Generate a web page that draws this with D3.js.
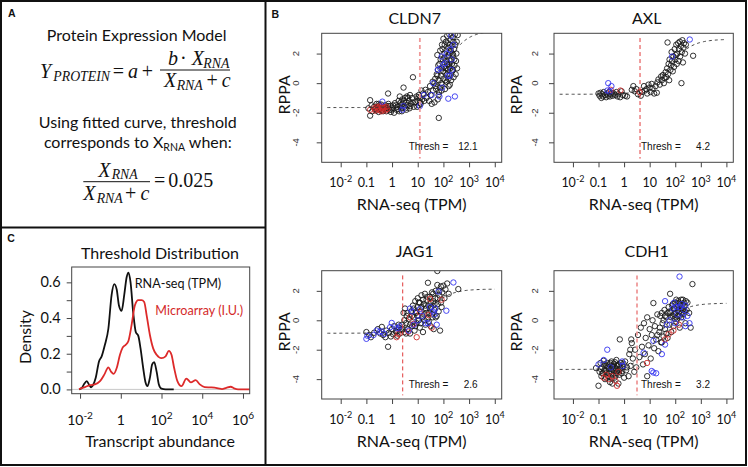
<!DOCTYPE html>
<html><head><meta charset="utf-8">
<script src="https://cdn.jsdelivr.net/npm/d3@7"></script>
<style>body{margin:0;background:#fff} svg{display:block}</style>
</head><body><svg id="c" width="748" height="467"></svg>
<script>
// ---------------- DATA ----------------
// Panel C: threshold density curves (log10 abundance, density)
const rnaLog10Abundance = [-2.05,-1.9,-1.8,-1.67,-1.55,-1.46,-1.38,-1.23,-1.07,-0.94,-0.78,-0.61,-0.45,-0.32,-0.2,-0.09,0.04,0.17,0.29,0.38,0.48,0.61,0.74,0.86,0.97,1.10,1.22,1.31,1.43,1.54,1.64,1.76,1.87,2.0,2.2,2.6];
const rnaDensity = [0,0.01,0.03,0.046,0.025,0.012,0.02,0.065,0.157,0.185,0.25,0.34,0.53,0.59,0.56,0.47,0.44,0.53,0.63,0.655,0.60,0.43,0.32,0.30,0.23,0.12,0.037,0.018,0.065,0.14,0.153,0.10,0.028,0.004,0,0];
const arrayLog10Abundance = [-2.05,-1.76,-1.51,-1.27,-1.02,-0.81,-0.61,-0.48,-0.35,-0.2,-0.04,0.09,0.24,0.37,0.53,0.69,0.86,1.02,1.15,1.27,1.43,1.59,1.76,2.0,2.2,2.36,2.49,2.62,2.78,2.98,3.22,3.44,3.68,3.88,4.12,4.45,4.78,4.97,5.18,5.4,5.56,5.76,6.33];
const arrayDensity = [0.002,0.013,0.024,0.028,0.046,0.083,0.124,0.10,0.087,0.12,0.194,0.234,0.25,0.27,0.36,0.47,0.50,0.50,0.49,0.415,0.305,0.23,0.194,0.175,0.185,0.216,0.194,0.12,0.046,0.018,0.061,0.04,0.052,0.028,0.013,0.011,0.006,0.002,0.009,0.015,0.006,0,0];
const cXTicks = [0.01, 1, 100, 1e4, 1e6];
const cXTickLabels = [["10","-2"],["1",""],["10","2"],["10","4"],["10","6"]];
const cYTicks = [0,0.1,0.2,0.3,0.4,0.5,0.6];
const cYTickLabels = ["0.0","","0.2","","0.4","","0.6"];

// Panel B: scatter data [TPM, RPPA]
const cldn7Black = [[0.12,-1.7],[0.14,-1.15],[0.14,-2.2],[0.16,-1.5],[0.17,-1.9],[0.2,-1.6],[0.22,-1.75],[0.25,-1.4],[0.25,-1.85],[0.28,-1.6],[0.3,-1.95],[0.32,-1.5],[0.35,-1.7],[0.38,-1.45],[0.4,-1.85],[0.45,-1.6],[0.5,-1.75],[0.55,-1.5],[0.6,-1.9],[0.65,-1.65],[0.7,-0.7],[0.72,-1.4],[0.8,-1.8],[0.85,-1.55],[0.9,-1.95],[1.0,-1.7],[1.1,-1.5],[1.2,-2.0],[1.3,-1.35],[1.5,-1.8],[1.6,-1.6],[1.8,-1.2],[1.9,-1.9],[2.0,-0.9],[2.1,-1.5],[2.3,-1.7],[2.5,-1.1],[2.6,-1.4],[2.8,-0.3],[3.0,-1.6],[3.2,-1.0],[3.4,-1.3],[3.6,-1.8],[3.8,-0.9],[4.0,-1.5],[4.5,-1.2],[4.8,-1.7],[5.0,-0.8],[5.5,-1.4],[6.0,-1.0],[6.5,0.4],[7,-1.6],[8,-1.3],[9,-0.9],[10,-1.2],[11,-1.5],[11,-0.8],[12,-1.0],[13,-1.4],[14,-0.5],[16,-0.7],[18,-1.2],[20,-0.45],[22,-1.0],[25,-0.6],[28,-1.2],[30,-0.2],[32,-0.8],[35,-1.4],[38,0.1],[40,-0.5],[45,-1.3],[48,0.3],[50,-0.2],[55,0.6],[58,1.9],[60,-1.1],[62,0.9],[65,0.2],[66,-2.35],[70,1.3],[72,-0.3],[75,2.2],[80,0.5],[85,1.0],[88,2.6],[90,-0.1],[95,1.6],[100,0.3],[100,3.0],[105,1.1],[110,2.0],[115,-0.4],[120,0.7],[125,2.8],[130,1.5],[135,0.1],[140,3.2],[145,1.8],[150,0.9],[155,2.4],[160,-0.2],[165,1.3],[170,3.3],[175,0.5],[180,2.0],[185,1.0],[190,2.9],[200,0.2],[205,1.6],[210,2.5],[220,0.8],[230,3.1],[240,1.9],[250,0.4],[260,2.3],[270,1.2],[280,3.3],[300,0.6],[320,2.0],[340,1.0],[360,3.25],
  [45,0.0],[52,-0.4],[58,0.5],[63,1.2],[68,-0.6],[78,1.6],[82,0.0],[92,2.3],[98,0.8],[108,1.7],[112,2.6],[118,0.2],[122,1.0],[128,2.2],[138,0.6],[142,1.3],[148,2.7],[158,0.3],[162,1.9],[168,1.1],[172,2.6],[178,-0.1],[188,1.5],[195,2.2],[215,1.3],[225,2.0],[235,0.9],[245,2.8],[265,1.6],[290,2.6],[310,1.5],[330,2.8],[65,-0.8],[85,-0.5],
  [0.3,-1.4],[0.45,-1.9],[0.55,-1.7],[0.7,-1.55],[0.95,-1.8],[1.4,-1.5],[1.7,-1.75],[2.2,-1.3],[2.4,-1.9],[2.9,-1.2],[3.3,-1.7],[4.2,-1.0],[5.2,-1.55],[6.2,-1.3],[9.5,-1.6],[10.5,-0.95],[12.5,-1.3],[15,-1.1]];
const cldn7Blue = [[0.42,-1.25],[2.5,-1.8],[2.8,-1.55],[12,-1.55],[17,-0.8],[35,-0.8],[70,-0.9],[155,-1.05],[280,-0.9],[40,0.0],[60,0.9],[85,1.8],[100,1.25],[117,1.35],[135,2.0],[180,2.25],[210,1.6],[245,2.6],[210,0.9],[150,0.5],[75,1.0],[200,3.2],[180,0.5],[90,-0.3]];
const cldn7Red = [[0.14,-1.8],[0.2,-1.7],[0.22,-1.85],[0.25,-1.6],[0.27,-1.75],[0.3,-1.65],[0.32,-1.8],[0.35,-1.55],[0.38,-1.9],[0.4,-1.7],[0.42,-1.6],[0.45,-1.8],[0.5,-1.65],[0.55,-1.85],[0.6,-1.6],[0.65,-1.75]];

const axlBlack = [[0.1,-0.7],[0.11,-0.85],[0.12,-0.65],[0.13,-1.0],[0.14,-0.75],[0.15,-0.9],[0.16,-0.6],[0.18,-0.8],[0.2,-0.95],[0.22,-0.7],[0.24,-0.85],[0.26,-0.6],[0.28,-0.9],[0.3,-0.75],[0.33,-0.65],[0.36,-0.85],[0.4,-0.7],[0.45,-0.8],[0.5,-0.6],[0.55,-0.9],[0.6,-0.75],[0.7,-0.95],[0.8,-0.55],[0.9,-0.8],[1.1,-0.85],[1.3,-0.9],[2.0,-0.45],[2.3,-0.2],[2.6,-0.55],[3.0,-0.4],[3.5,-0.75],[4.5,-0.85],[5,-0.6],[6,-0.2],[6.5,-0.5],[7.5,-0.4],[8,-0.7],[9,-0.1],[10,-0.3],[11,-0.6],[12,-0.05],[13,-0.35],[15,-0.7],[17,-0.2],[19,-0.65],[20,0.05],[22,0.25],[25,-0.1],[28,0.45],[30,0.2],[33,0.55],[36,0.0],[38,0.35],[42,0.75],[45,0.4],[48,1.0],[50,2.75],[52,0.6],[55,1.3],[58,0.2],[60,1.6],[65,0.9],[68,1.2],[72,2.1],[75,1.5],[80,0.8],[85,1.8],[90,1.1],[95,2.3],[100,1.6],[105,1.9],[110,2.6],[115,1.3],[120,2.0],[130,2.7],[135,1.5],[140,2.3],[150,2.8],[155,1.8],[165,2.5],[175,0.0],[180,2.1],[190,2.9],[200,1.4],[210,2.4],[220,2.7],[240,2.0],[260,2.6],[500,1.85]];
const axlBlue = [[0.24,0.0],[0.32,-0.2],[0.22,-0.5],[0.27,-0.57],[75,1.8],[370,2.95]];
const axlRed = [[0.72,-0.5],[4.0,-0.6],[0.3,-0.45]];

const jag1Black = [[0.1,-0.8],[0.13,-1.0],[0.15,-1.15],[0.2,-0.85],[0.28,-0.6],[0.35,-0.9],[0.4,-0.45],[0.45,-1.0],[0.55,-1.15],[0.6,-0.7],[0.7,-1.8],[0.75,-0.85],[0.9,-1.1],[1.0,-0.6],[1.1,-0.95],[1.2,-0.4],[1.4,-0.75],[1.6,-1.05],[1.8,-0.5],[2.0,-0.9],[2.2,-0.65],[2.5,-0.3],[2.8,0.5],[3.0,-0.8],[3.2,0.8],[3.5,-0.2],[3.7,0.3],[4.0,-0.6],[4.5,0.1],[5.0,-0.9],[5.5,0.6],[6,-0.4],[6.5,1.0],[7,0.2],[7.5,-0.7],[8,1.3],[8.5,0.5],[9,-0.2],[10,1.5],[10,0.9],[11,0.0],[12,1.2],[12,-0.5],[13,0.6],[14,1.7],[15,0.2],[16,-0.8],[17,1.1],[18,0.4],[19,1.8],[20,-0.3],[21,0.8],[22,1.4],[24,0.1],[25,2.55],[26,1.0],[28,0.5],[30,1.6],[32,-0.4],[34,0.9],[36,1.9],[38,0.2],[40,1.3],[42,-0.6],[45,0.7],[48,1.5],[50,2.0],[55,0.3],[58,3.35],[58,2.4],[60,1.1],[65,0.6],[70,1.7],[74,-0.7],[80,2.3],[85,0.9],[90,1.9],[100,2.35],[110,1.5],[120,2.1],[140,2.5],[160,1.8],[380,2.12],
  [3,0.0],[4,0.5],[5,-0.3],[6,0.3],[7,0.8],[8,-0.4],[9,0.6],[10,0.3],[11,1.2],[13,-0.2],[14,0.9],[16,1.4],[18,0.0],[20,1.0],[22,0.5],[24,1.6],[27,-0.1],[30,0.8],[33,1.2],[36,0.4],[40,1.8],[45,1.1],[50,0.2],[60,1.5],[70,2.0],[80,1.2],[2.5,-0.6],[3.5,-0.9],[1.5,-0.8],[1.8,-0.3]];
const jag1Blue = [[0.1,-1.26],[0.11,-1.05],[0.19,-1.0],[0.25,-0.7],[0.32,-0.8],[0.4,-0.75],[0.5,-0.93],[0.84,-0.47],[0.97,-0.18],[1.5,-0.54],[1.8,-0.55],[2.0,-0.4],[4.5,-0.7],[5,0.8],[6,0.6],[7,-0.3],[10,0.0],[12,0.75],[15,0.3],[20,-0.2],[25,-0.2],[30,0.9],[45,0.4],[48,0.8],[55,-0.3],[64,1.95],[130,0.65],[245,2.57],[40,0.6]];
const jag1Red = [[1.5,-1.15],[1.76,-0.93],[4.3,-0.77],[6.8,-0.25],[5,0.2],[9.1,-1.15],[12,0.54],[26,0.36],[30,1.45],[85,1.4],[35,-0.5]];

const cdh1Black = [[0.08,-3.25],[0.1,-4.45],[0.11,-3.5],[0.12,-2.9],[0.13,-3.8],[0.14,-3.2],[0.15,-3.6],[0.16,-2.75],[0.17,-3.4],[0.18,-4.0],[0.2,-3.1],[0.21,-3.55],[0.22,-2.9],[0.24,-3.8],[0.25,-3.3],[0.27,-3.0],[0.28,-4.2],[0.3,-3.5],[0.32,-2.8],[0.34,-3.15],[0.36,-3.7],[0.38,-3.35],[0.4,-2.95],[0.42,-3.9],[0.45,-3.25],[0.48,-3.6],[0.5,-2.7],[0.52,-3.1],[0.55,-3.45],[0.6,-4.3],[0.62,-3.0],[0.65,-3.7],[0.68,-1.3],[0.7,-3.3],[0.75,-2.9],[0.8,-3.6],[0.9,-3.15],[1.0,-3.9],[1.1,-2.8],[1.2,-3.4],[1.5,-3.8],[1.6,-2.3],[1.8,-3.1],[1.9,-1.3],[1.75,-2.0],[2.0,-1.55],[2.2,-2.6],[2.5,-3.5],[2.7,-2.0],[3,-3.2],[3.5,-1.0],[4,-2.5],[4.5,-0.5],[5,-1.8],[5.5,-3.0],[6,-0.2],[6.5,-2.3],[7,-1.2],[8,0.2],[8,-3.8],[9,-1.7],[10,-0.6],[11,-2.6],[12,-1.0],[13,0.0],[14,1.17],[15,-1.9],[16,-0.4],[18,-1.3],[20,0.4],[22,-2.1],[24,-0.8],[26,0.3],[28,-1.5],[30,0.5],[32,-0.2],[35,-1.1],[38,0.7],[40,-0.6],[45,0.2],[50,-1.2],[55,0.9],[60,-0.3],[63,1.8],[65,0.5],[70,-0.8],[75,1.0],[80,0.3],[85,-0.4],[90,0.8],[95,0.1],[100,1.2],[105,0.5],[110,-0.1],[120,0.9],[125,0.3],[130,1.3],[140,0.6],[150,-0.5],[160,1.1],[170,0.2],[180,0.8],[200,1.4],[210,0.4],[230,1.0],[250,-0.2],[280,0.7],[300,1.2],[350,0.5],[470,2.46],[400,-0.5],
  [0.12,-3.3],[0.14,-3.6],[0.17,-3.0],[0.19,-3.4],[0.23,-3.15],[0.26,-3.6],[0.29,-2.9],[0.31,-3.3],[0.33,-3.95],[0.37,-3.1],[0.41,-3.45],[0.44,-2.85],[0.47,-3.75],[0.51,-3.3],[0.57,-3.05],[0.64,-3.5],[0.72,-3.15],[0.85,-3.45],[0.95,-2.95],[1.3,-3.2],[0.2,-3.9],[0.35,-4.3],
  [60,0.6],[70,0.2],[80,1.1],[90,0.4],[100,0.8],[110,1.4],[120,0.1],[130,0.7],[140,1.2],[150,0.3],[160,0.8],[170,1.4],[180,0.5],[190,1.0],[200,0.7],[220,1.2],[240,0.6],[260,1.3],[40,0.3],[50,0.5],[35,0.0],[25,-0.5],[45,-0.9],[30,-1.5],[20,-1.0]];
const cdh1Blue = [[0.22,-2.0],[0.1,-3.0],[0.16,-2.7],[0.84,-2.8],[0.9,-3.1],[0.3,-3.2],[5.8,-2.2],[12,-3.45],[14,-3.55],[18,-3.6],[14,-1.4],[30,-2.3],[40,-1.65],[40,1.3],[47,-0.3],[147,2.97],[360,-0.2],[60,0.0],[80,0.8],[100,-0.2],[120,0.4],[150,0.9],[180,1.1],[200,0.2],[220,0.7],[250,1.0],[300,0.3],[90,1.2],[250,-0.4],[110,0.9]];
const cdh1Red = [[0.16,-3.9],[0.2,-3.7],[0.34,-3.8],[0.46,-4.1],[0.53,-4.45],[0.6,-3.5],[0.25,-4.0],[7.9,-2.9],[40,-1.3],[55,-0.95],[85,-0.7],[140,-0.3]];

const genes = ["CLDN7","AXL","JAG1","CDH1"];
const thresholds = [12.1, 4.2, 2.6, 3.2];
const fitA = [-1.65, -0.75, -0.88, -3.34];
const fitB = [5.2, 3.72, 3.0, 4.5];
const fitC = [100, 60, 24, 22];
const bXTicks = [0.01,0.1,1,10,100,1000,10000];
const bXTickLabels = [["10","-2"],["0.1",""],["1",""],["10",""],["10","2"],["10","3"],["10","4"]];
const bYTicks = [-4,-2,0,2];

// ---------------- DRAW ----------------
const svg = d3.select("#c");
const SANS = "Lato, 'Open Sans', sans-serif";
const ARIAL = "'Liberation Sans', Arial, sans-serif";
const SERIF = "'Liberation Serif', 'Times New Roman', serif";

svg.append("rect").attr("width",748).attr("height",467).attr("fill","#fff");

function supLabel(sel, parts, size) {
  sel.text(parts[0]);
  if (parts[1]) sel.append("tspan").attr("dy", -size*0.42).attr("font-size", size*0.72).text(parts[1]);
}

// ---- Panel B scatters ----
const boxes = [
  {x0:321.7,x1:501.7,y0:33.3,y1:162.3,titleY:24,col:0,light:true},
  {x0:554,x1:733.3,y0:33.3,y1:162.3,titleY:24,col:1,light:false},
  {x0:321.7,x1:501.7,y0:270.7,y1:399,titleY:257,col:0,light:false},
  {x0:554,x1:733.3,y0:270.7,y1:399,titleY:257,col:1,light:true}
];
const blacks = [cldn7Black, axlBlack, jag1Black, cdh1Black];
const blues = [cldn7Blue, axlBlue, jag1Blue, cdh1Blue];
const reds = [cldn7Red, axlRed, jag1Red, cdh1Red];

genes.forEach((gene, i) => {
  const b = boxes[i];
  const g = svg.append("g");
  const x = d3.scaleLog().domain([Math.pow(10,-2.74), Math.pow(10,4.27)]).range([b.x0,b.x1]);
  const y = d3.scaleLinear().domain([-5.35, 3.37]).range([b.y1,b.y0]);
  const cid = "clip"+i;
  svg.append("clipPath").attr("id",cid).append("rect")
    .attr("x",b.x0).attr("y",b.y0).attr("width",b.x1-b.x0).attr("height",b.y1-b.y0);
  const pg = g.append("g").attr("clip-path",`url(#${cid})`);
  [[blacks[i],"#1c1c1c"],[reds[i],"#cf2a2a"],[blues[i],"#3333f0"]].forEach(([arr,col]) => {
    pg.selectAll(null).data(arr).join("circle")
      .attr("cx",d=>x(d[0])).attr("cy",d=>y(d[1])).attr("r",2.7)
      .attr("fill","none").attr("stroke",col).attr("stroke-width",0.9);
  });
  // fitted curve
  const xs = d3.range(0,131).map(k => Math.pow(10, -2.52 + k*6.52/130));
  pg.append("path").datum(xs)
    .attr("d", d3.line().x(d=>x(d)).y(d=>y(fitA[i] + fitB[i]*d/(d+fitC[i]))))
    .attr("fill","none").attr("stroke","#333").attr("stroke-width",0.9).attr("stroke-dasharray","3,3");
  // threshold line
  g.append("line").attr("x1",x(thresholds[i])).attr("x2",x(thresholds[i]))
    .attr("y1",y(3.05)).attr("y2",y(-5.1))
    .attr("stroke", b.light ? "#ef9a9a" : "#e03a3a").attr("stroke-width", b.light ? 1.8 : 1)
    .attr("stroke-dasharray","4,3");
  // box
  g.append("rect").attr("x",b.x0).attr("y",b.y0).attr("width",b.x1-b.x0).attr("height",b.y1-b.y0)
    .attr("fill","none").attr("stroke","#444").attr("stroke-width",1);
  // axes
  const ax = g.append("g").attr("transform",`translate(0,${b.y1})`)
    .call(d3.axisBottom(x).tickValues(bXTicks).tickSize(5).tickFormat(""));
  ax.select(".domain").remove();
  ax.selectAll(".tick line").attr("stroke","#444");
  const ay = g.append("g").attr("transform",`translate(${b.x0},0)`)
    .call(d3.axisLeft(y).tickValues(bYTicks).tickSize(5).tickFormat(""));
  ay.select(".domain").remove();
  ay.selectAll(".tick line").attr("stroke","#444");
  // x tick labels
  bXTicks.forEach((t,k) => {
    const tx = g.append("text").attr("x",x(t)).attr("y",b.y1+24.5).attr("text-anchor","middle")
      .attr("font-family",SANS).attr("font-size",12.5).attr("fill","#111");
    supLabel(tx, bXTickLabels[k], 12.5);
  });
  // y tick labels (rotated)
  const ylx = b.x0 - (b.col===0 ? 22.5 : 15.7);
  bYTicks.forEach(t => {
    g.append("text").attr("transform",`translate(${ylx},${y(t)}) rotate(-90)`)
      .attr("text-anchor","middle").attr("font-family",ARIAL).attr("font-size",9.5).attr("fill","#333")
      .text(t);
  });
  // axis titles
  g.append("text").attr("x",(b.x0+b.x1)/2).attr("y",b.y1+48).attr("text-anchor","middle")
    .attr("font-family",SANS).attr("font-size",16).attr("fill","#111").text("RNA-seq (TPM)");
  g.append("text").attr("transform",`translate(${b.x0-32},${(b.y0+b.y1)/2-3}) rotate(-90)`)
    .attr("text-anchor","middle").attr("font-family",SANS).attr("font-size",16).attr("fill","#111").text("RPPA");
  g.append("text").attr("x",(b.x0+b.x1)/2+3).attr("y",b.titleY).attr("text-anchor","middle")
    .attr("font-family",SANS).attr("font-size",16).attr("fill","#111").text(gene);
  // thresh text
  g.append("text").attr("x",b.x0+87).attr("y",b.y0+117).attr("font-family",ARIAL).attr("font-size",10)
    .attr("fill","#111").text("Thresh =");
  g.append("text").attr("x",b.x0+156).attr("y",b.y0+117).attr("text-anchor","end").attr("font-family",ARIAL)
    .attr("font-size",10).attr("fill","#111").text(thresholds[i]);
});

// ---- Panel C density ----
{
  const b = {x0:71.7,x1:249.7,y0:267,y1:393.7};
  const g = svg.append("g");
  const x = d3.scaleLog().domain([Math.pow(10,-2.41), Math.pow(10,6.33)]).range([b.x0,b.x1]);
  const y = d3.scaleLinear().domain([-0.024,0.686]).range([b.y1,b.y0]);
  g.append("line").attr("x1",b.x0).attr("x2",b.x1).attr("y1",y(0)).attr("y2",y(0))
    .attr("stroke","#bbb").attr("stroke-width",0.8);
  const line = d3.line().x(d=>x(Math.pow(10,d[0]))).y(d=>y(d[1])).curve(d3.curveMonotoneX);
  g.append("path").datum(d3.zip(rnaLog10Abundance, rnaDensity)).attr("d",line)
    .attr("fill","none").attr("stroke","#111").attr("stroke-width",1.8);
  g.append("path").datum(d3.zip(arrayLog10Abundance, arrayDensity)).attr("d",line)
    .attr("fill","none").attr("stroke","#dd2a2a").attr("stroke-width",1.8);
  g.append("rect").attr("x",b.x0).attr("y",b.y0).attr("width",b.x1-b.x0).attr("height",b.y1-b.y0)
    .attr("fill","none").attr("stroke","#444").attr("stroke-width",1);
  const ax = g.append("g").attr("transform",`translate(0,${b.y1})`)
    .call(d3.axisBottom(x).tickValues(cXTicks).tickSize(5).tickFormat(""));
  ax.select(".domain").remove(); ax.selectAll(".tick line").attr("stroke","#444");
  const ay = g.append("g").attr("transform",`translate(${b.x0},0)`)
    .call(d3.axisLeft(y).tickValues(cYTicks).tickSize(5).tickFormat(""));
  ay.select(".domain").remove(); ay.selectAll(".tick line").attr("stroke","#444");
  cXTicks.forEach((t,k) => {
    const tx = g.append("text").attr("x",x(t)).attr("y",424.7).attr("text-anchor","middle")
      .attr("font-family",SANS).attr("font-size",14).attr("fill","#111");
    supLabel(tx, cXTickLabels[k], 14);
  });
  cYTicks.forEach((t,k) => {
    if (!cYTickLabels[k]) return;
    g.append("text").attr("x",60.7).attr("y",y(t)+5).attr("text-anchor","end")
      .attr("font-family",SANS).attr("font-size",14.5).attr("fill","#111").text(cYTickLabels[k]);
  });
  g.append("text").attr("x",160).attr("y",258.7).attr("text-anchor","middle").attr("font-family",SANS)
    .attr("font-size",16).attr("fill","#111").text("Threshold Distribution");
  g.append("text").attr("x",160).attr("y",447).attr("text-anchor","middle").attr("font-family",SANS)
    .attr("font-size",16).attr("fill","#111").text("Transcript abundance");
  g.append("text").attr("transform","translate(30.5,337) rotate(-90)").attr("text-anchor","middle")
    .attr("font-family",SANS).attr("font-size",16).attr("fill","#111").text("Density");
  g.append("text").attr("x",134.7).attr("y",288).attr("font-family",SANS).attr("font-size",12.6)
    .attr("fill","#111").text("RNA-seq (TPM)");
  g.append("text").attr("x",155.3).attr("y",315.3).attr("font-family",SANS).attr("font-size",12.6)
    .attr("fill","#d42a2a").text("Microarray (I.U.)");
}

// ---- Panel A text ----
{
  const g = svg.append("g").attr("fill","#111");
  const t = (x,y,s,opts={}) => g.append("text").attr("x",x).attr("y",y)
      .attr("font-family",opts.fam||SERIF).attr("font-size",opts.size||20)
      .attr("font-style",opts.it?"italic":"normal").attr("text-anchor",opts.anchor||"start").text(s);
  t(136.7,41,"Protein Expression Model",{fam:SANS,size:16,anchor:"middle"});
  // Y_PROTEIN = a + (b·X_RNA)/(X_RNA + c)
  t(40,78.3,"Y",{it:true});
  t(53.3,81,"PROTEIN",{it:true,size:13.8});
  t(112.7,78.3,"=");
  t(128,78.3,"a",{it:true});
  t(141.7,78.3,"+");
  g.append("line").attr("x1",160).attr("x2",230).attr("y1",70).attr("y2",70).attr("stroke","#111").attr("stroke-width",1);
  t(168,65,"b",{it:true});
  t(183.3,65,"·",{anchor:"middle"});
  t(191.7,65,"X",{it:true});
  t(203.3,67.5,"RNA",{it:true,size:13.8});
  t(164,87.3,"X",{it:true});
  t(176.7,90,"RNA",{it:true,size:13.8});
  t(206.5,87.3,"+");
  t(221.7,87.3,"c",{it:true});
  // text
  t(137.8,128.3,"Using fitted curve, threshold",{fam:SANS,size:16,anchor:"middle"});
  const tt = g.append("text").attr("x",137.8).attr("y",148.3).attr("font-family",SANS).attr("font-size",16)
    .attr("text-anchor","middle");
  tt.append("tspan").text("corresponds to X");
  tt.append("tspan").attr("dy",3).attr("font-size",10.5).text("RNA");
  tt.append("tspan").attr("dy",-3).text(" when:");
  // fraction 2
  t(98.3,176.7,"X",{it:true});
  t(111.7,179,"RNA",{it:true,size:13.8});
  g.append("line").attr("x1",83.3).attr("x2",150).attr("y1",181.7).attr("y2",181.7).attr("stroke","#111").attr("stroke-width",1);
  t(83.3,200,"X",{it:true});
  t(96.7,202.5,"RNA",{it:true,size:13.8});
  t(125,200,"+");
  t(140.5,200,"c",{it:true});
  t(154,186.7,"=");
  t(168.3,186.7,"0.025");
}

// ---- Panel borders and labels ----
svg.append("rect").attr("x",1).attr("y",1).attr("width",745).attr("height",464)
  .attr("fill","none").attr("stroke","#111").attr("stroke-width",2);
svg.append("line").attr("x1",265.5).attr("x2",265.5).attr("y1",1).attr("y2",465).attr("stroke","#111").attr("stroke-width",2);
svg.append("line").attr("x1",1).attr("x2",265.5).attr("y1",227.5).attr("y2",227.5).attr("stroke","#111").attr("stroke-width",2);
[["A",8,16.7],["B",271.5,18.3],["C",7.3,242]].forEach(([s,x,y]) =>
  svg.append("text").attr("x",x).attr("y",y).attr("font-family",ARIAL).attr("font-weight","bold")
    .attr("font-size",10.5).attr("fill","#111").text(s));
</script></body></html>
